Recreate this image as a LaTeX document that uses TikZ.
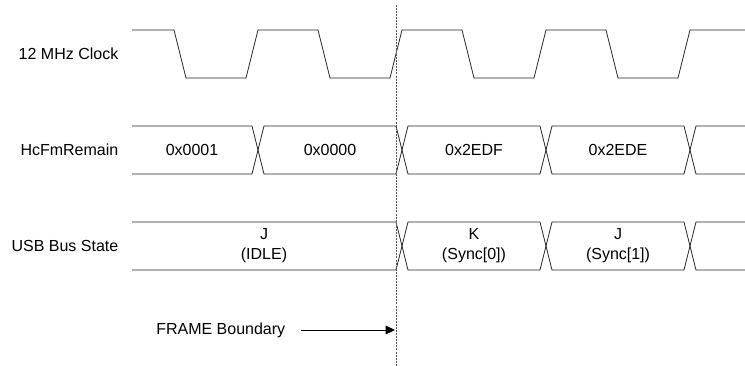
\documentclass[tikz,border=0pt]{standalone}
\usepackage{fontspec}
\setmainfont{Liberation Sans}
\usepackage{xcolor}
\usetikzlibrary{arrows.meta}
\definecolor{wavegray}{RGB}{35,35,35}
\definecolor{markgray}{RGB}{90,90,90}

\begin{document}
\begin{tikzpicture}[x=0.75pt,y=-0.75pt,font=\fontsize{12}{15}\selectfont]
  \tikzset{wave/.style={wavegray,line width=0.6pt,line join=miter},
    boundary/.style={markgray,line width=0.6pt,dash pattern=on 1.5pt off 0.8pt},
    pointer/.style={black,line width=0.6pt,-{Triangle[length=7pt,width=6.5pt]}}}
  \useasboundingbox (0,0) rectangle (745,366);
  \node[anchor=east] (clklabel) at (123,54) {12 MHz Clock};
  \node[anchor=east] (remlabel) at (123,150) {HcFmRemain};
  \node[anchor=east] (buslabel) at (123,246) {USB Bus State};
  \draw[wave] (132,30)--(174,30)--(186,78)--(246,78)--(258,30)--(318,30)--(330,78)--(390,78)
    --(402,30)--(462,30)--(474,78)--(534,78)--(546,30)--(606,30)--(618,78)--(678,78)--(690,30)--(745,30);
  \draw[wave] (132,126)--(252,126)--(264,174)--(396,174)--(408,126)--(540,126)--(552,174)--(684,174)--(696,126)--(745,126);
  \draw[wave] (132,174)--(252,174)--(264,126)--(396,126)--(408,174)--(540,174)--(552,126)--(684,126)--(696,174)--(745,174);
  \node (remA) at (192,150) {0x0001};
  \node (remB) at (330,150) {0x0000};
  \node (remC) at (474,150) {0x2EDF};
  \node (remD) at (618,150) {0x2EDE};
  \draw[wave] (132,222)--(396,222)--(408,270)--(540,270)--(552,222)--(684,222)--(696,270)--(745,270);
  \draw[wave] (132,270)--(396,270)--(408,222)--(540,222)--(552,270)--(684,270)--(696,222)--(745,222);
  \node[align=center] (busA) at (264,246) {J\\(IDLE)};
  \node[align=center] (busB) at (474,246) {K\\(Sync[0])};
  \node[align=center] (busC) at (618,246) {J\\(Sync[1])};
  \coordinate (fbtop) at (396,5);
  \coordinate (fbbot) at (396,366);
  \coordinate (fb) at (395,330);
  \draw[boundary] (fbtop) -- (fbbot);
  \node[anchor=west,inner sep=0pt] (frame) at (156,330) {FRAME Boundary};
  \draw[pointer] ([xshift=12pt]frame.east) -- (fb);
\end{tikzpicture}
\end{document}
